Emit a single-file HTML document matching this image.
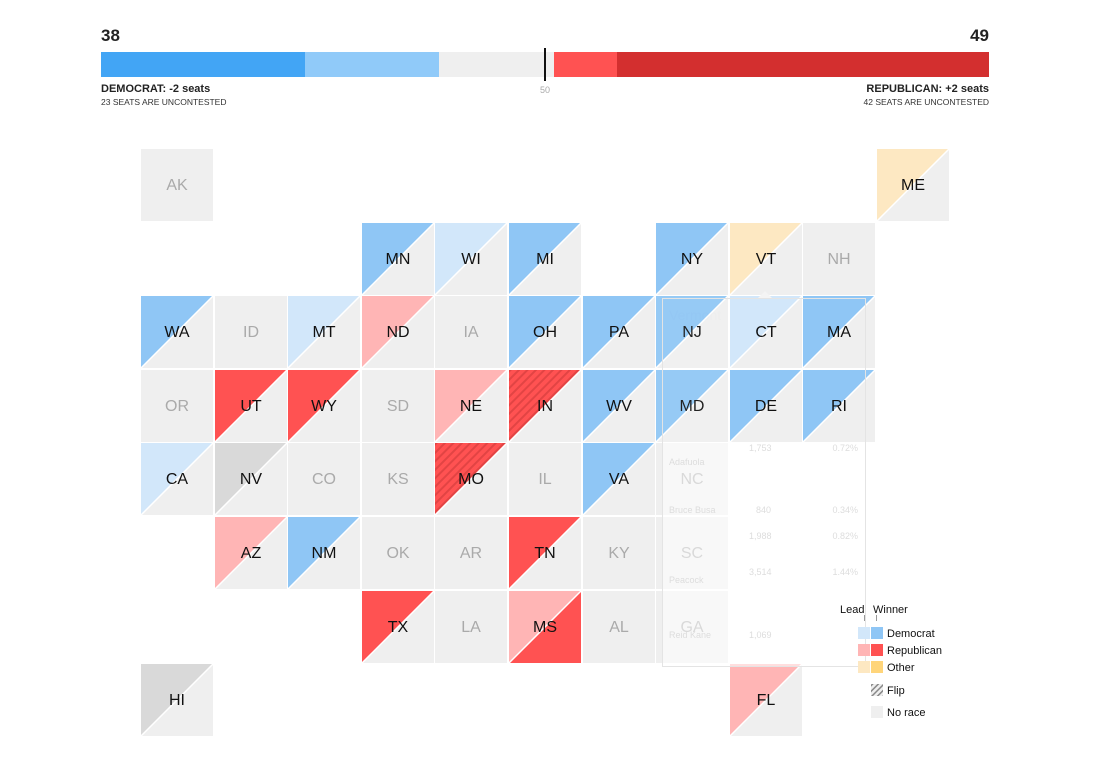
<!DOCTYPE html>
<html><head><meta charset="utf-8"><style>
body{margin:0;background:#fff;width:1097px;height:770px;overflow:hidden;font-family:"Liberation Sans",sans-serif}
</style></head><body>
<svg width="1097" height="770" xmlns="http://www.w3.org/2000/svg" font-family="Liberation Sans, sans-serif">
<defs>
<pattern id="h" width="6" height="6" patternUnits="userSpaceOnUse" patternTransform="rotate(45)">
<rect width="6" height="6" fill="#ff5252"/><rect width="2" height="6" fill="#e24444"/></pattern>
<pattern id="hl" width="4" height="4" patternUnits="userSpaceOnUse" patternTransform="rotate(45)">
<rect width="4" height="4" fill="#eee"/><rect width="1.5" height="4" fill="#888"/></pattern>
</defs>
<text x="101" y="41" font-size="17" font-weight="bold" fill="#222">38</text>
<text x="989" y="41" font-size="17" font-weight="bold" fill="#222" text-anchor="end">49</text>
<rect x="101" y="52" width="204" height="25" fill="#42a5f5"/>
<rect x="305" y="52" width="134" height="25" fill="#90caf9"/>
<rect x="439" y="52" width="115" height="25" fill="#efefef"/>
<rect x="554" y="52" width="63" height="25" fill="#ff5252"/>
<rect x="617" y="52" width="372" height="25" fill="#d32f2f"/>
<rect x="544" y="48" width="2" height="33" fill="#111"/>
<text x="545" y="93" font-size="9" fill="#aaa" text-anchor="middle">50</text>
<text x="101" y="92" font-size="11" font-weight="bold" fill="#222">DEMOCRAT: -2 seats</text>
<text x="101" y="105" font-size="8.5" fill="#333">23 SEATS ARE UNCONTESTED</text>
<text x="989" y="92" font-size="11" font-weight="bold" fill="#222" text-anchor="end">REPUBLICAN: +2 seats</text>
<text x="989" y="105" font-size="8.5" fill="#333" text-anchor="end">42 SEATS ARE UNCONTESTED</text>

<text x="669" y="320" font-size="14" fill="#d8e2ee">Vermont</text>

<g font-size="16" text-anchor="middle" stroke-width="0">
<g transform="translate(141,149)"><rect width="72" height="72" fill="#efefef"/><text x="36" y="41" fill="#aaa">AK</text></g>
<g transform="translate(877,149)"><rect width="72" height="72" fill="#efefef"/><polygon points="0,0 72,0 0,72" fill="#fde8c2"/><line x1="72" y1="0" x2="0" y2="72" stroke="#fff" stroke-width="1.5"/><text x="36" y="41" fill="#111">ME</text></g>

<g transform="translate(362,223)"><rect width="72" height="72" fill="#efefef"/><polygon points="0,0 72,0 0,72" fill="#8fc6f5"/><line x1="72" y1="0" x2="0" y2="72" stroke="#fff" stroke-width="1.5"/><text x="36" y="41" fill="#111">MN</text></g>
<g transform="translate(435,223)"><rect width="72" height="72" fill="#efefef"/><polygon points="0,0 72,0 0,72" fill="#d2e7fa"/><line x1="72" y1="0" x2="0" y2="72" stroke="#fff" stroke-width="1.5"/><text x="36" y="41" fill="#111">WI</text></g>
<g transform="translate(509,223)"><rect width="72" height="72" fill="#efefef"/><polygon points="0,0 72,0 0,72" fill="#8fc6f5"/><line x1="72" y1="0" x2="0" y2="72" stroke="#fff" stroke-width="1.5"/><text x="36" y="41" fill="#111">MI</text></g>
<g transform="translate(656,223)"><rect width="72" height="72" fill="#efefef"/><polygon points="0,0 72,0 0,72" fill="#8fc6f5"/><line x1="72" y1="0" x2="0" y2="72" stroke="#fff" stroke-width="1.5"/><text x="36" y="41" fill="#111">NY</text></g>
<g transform="translate(730,223)"><rect width="72" height="72" fill="#efefef"/><polygon points="0,0 72,0 0,72" fill="#fde8c2"/><line x1="72" y1="0" x2="0" y2="72" stroke="#fff" stroke-width="1.5"/><text x="36" y="41" fill="#111">VT</text></g>
<g transform="translate(803,223)"><rect width="72" height="72" fill="#efefef"/><text x="36" y="41" fill="#aaa">NH</text></g>

<g transform="translate(141,296)"><rect width="72" height="72" fill="#efefef"/><polygon points="0,0 72,0 0,72" fill="#8fc6f5"/><line x1="72" y1="0" x2="0" y2="72" stroke="#fff" stroke-width="1.5"/><text x="36" y="41" fill="#111">WA</text></g>
<g transform="translate(215,296)"><rect width="72" height="72" fill="#efefef"/><text x="36" y="41" fill="#aaa">ID</text></g>
<g transform="translate(288,296)"><rect width="72" height="72" fill="#efefef"/><polygon points="0,0 72,0 0,72" fill="#d2e7fa"/><line x1="72" y1="0" x2="0" y2="72" stroke="#fff" stroke-width="1.5"/><text x="36" y="41" fill="#111">MT</text></g>
<g transform="translate(362,296)"><rect width="72" height="72" fill="#efefef"/><polygon points="0,0 72,0 0,72" fill="#ffb5b5"/><line x1="72" y1="0" x2="0" y2="72" stroke="#fff" stroke-width="1.5"/><text x="36" y="41" fill="#111">ND</text></g>
<g transform="translate(435,296)"><rect width="72" height="72" fill="#efefef"/><text x="36" y="41" fill="#aaa">IA</text></g>
<g transform="translate(509,296)"><rect width="72" height="72" fill="#efefef"/><polygon points="0,0 72,0 0,72" fill="#8fc6f5"/><line x1="72" y1="0" x2="0" y2="72" stroke="#fff" stroke-width="1.5"/><text x="36" y="41" fill="#111">OH</text></g>
<g transform="translate(583,296)"><rect width="72" height="72" fill="#efefef"/><polygon points="0,0 72,0 0,72" fill="#8fc6f5"/><line x1="72" y1="0" x2="0" y2="72" stroke="#fff" stroke-width="1.5"/><text x="36" y="41" fill="#111">PA</text></g>
<g transform="translate(656,296)" opacity="0.93"><rect width="72" height="72" fill="#efefef"/><polygon points="0,0 72,0 0,72" fill="#8fc6f5"/><line x1="72" y1="0" x2="0" y2="72" stroke="#fff" stroke-width="1.5"/><text x="36" y="41" fill="#111">NJ</text></g>
<g transform="translate(730,296)"><rect width="72" height="72" fill="#efefef"/><polygon points="0,0 72,0 0,72" fill="#d2e7fa"/><line x1="72" y1="0" x2="0" y2="72" stroke="#fff" stroke-width="1.5"/><text x="36" y="41" fill="#111">CT</text></g>
<g transform="translate(803,296)"><rect width="72" height="72" fill="#efefef"/><polygon points="0,0 72,0 0,72" fill="#8fc6f5"/><line x1="72" y1="0" x2="0" y2="72" stroke="#fff" stroke-width="1.5"/><text x="36" y="41" fill="#111">MA</text></g>

<g transform="translate(141,370)"><rect width="72" height="72" fill="#efefef"/><text x="36" y="41" fill="#aaa">OR</text></g>
<g transform="translate(215,370)"><rect width="72" height="72" fill="#efefef"/><polygon points="0,0 72,0 0,72" fill="#ff5252"/><line x1="72" y1="0" x2="0" y2="72" stroke="#fff" stroke-width="1.5"/><text x="36" y="41" fill="#111">UT</text></g>
<g transform="translate(288,370)"><rect width="72" height="72" fill="#efefef"/><polygon points="0,0 72,0 0,72" fill="#ff5252"/><line x1="72" y1="0" x2="0" y2="72" stroke="#fff" stroke-width="1.5"/><text x="36" y="41" fill="#111">WY</text></g>
<g transform="translate(362,370)"><rect width="72" height="72" fill="#efefef"/><text x="36" y="41" fill="#aaa">SD</text></g>
<g transform="translate(435,370)"><rect width="72" height="72" fill="#efefef"/><polygon points="0,0 72,0 0,72" fill="#ffb5b5"/><line x1="72" y1="0" x2="0" y2="72" stroke="#fff" stroke-width="1.5"/><text x="36" y="41" fill="#111">NE</text></g>
<g transform="translate(509,370)"><rect width="72" height="72" fill="#efefef"/><polygon points="0,0 72,0 0,72" fill="url(#h)"/><line x1="72" y1="0" x2="0" y2="72" stroke="#fff" stroke-width="1.5"/><text x="36" y="41" fill="#111">IN</text></g>
<g transform="translate(583,370)"><rect width="72" height="72" fill="#efefef"/><polygon points="0,0 72,0 0,72" fill="#8fc6f5"/><line x1="72" y1="0" x2="0" y2="72" stroke="#fff" stroke-width="1.5"/><text x="36" y="41" fill="#111">WV</text></g>
<g transform="translate(656,370)" opacity="0.93"><rect width="72" height="72" fill="#efefef"/><polygon points="0,0 72,0 0,72" fill="#8fc6f5"/><line x1="72" y1="0" x2="0" y2="72" stroke="#fff" stroke-width="1.5"/><text x="36" y="41" fill="#111">MD</text></g>
<g transform="translate(730,370)"><rect width="72" height="72" fill="#efefef"/><polygon points="0,0 72,0 0,72" fill="#8fc6f5"/><line x1="72" y1="0" x2="0" y2="72" stroke="#fff" stroke-width="1.5"/><text x="36" y="41" fill="#111">DE</text></g>
<g transform="translate(803,370)"><rect width="72" height="72" fill="#efefef"/><polygon points="0,0 72,0 0,72" fill="#8fc6f5"/><line x1="72" y1="0" x2="0" y2="72" stroke="#fff" stroke-width="1.5"/><text x="36" y="41" fill="#111">RI</text></g>

<g transform="translate(141,443)"><rect width="72" height="72" fill="#efefef"/><polygon points="0,0 72,0 0,72" fill="#d2e7fa"/><line x1="72" y1="0" x2="0" y2="72" stroke="#fff" stroke-width="1.5"/><text x="36" y="41" fill="#111">CA</text></g>
<g transform="translate(215,443)"><rect width="72" height="72" fill="#efefef"/><polygon points="0,0 72,0 0,72" fill="#d9d9d9"/><line x1="72" y1="0" x2="0" y2="72" stroke="#fff" stroke-width="1.5"/><text x="36" y="41" fill="#111">NV</text></g>
<g transform="translate(288,443)"><rect width="72" height="72" fill="#efefef"/><text x="36" y="41" fill="#aaa">CO</text></g>
<g transform="translate(362,443)"><rect width="72" height="72" fill="#efefef"/><text x="36" y="41" fill="#aaa">KS</text></g>
<g transform="translate(435,443)"><rect width="72" height="72" fill="#efefef"/><polygon points="0,0 72,0 0,72" fill="url(#h)"/><line x1="72" y1="0" x2="0" y2="72" stroke="#fff" stroke-width="1.5"/><text x="36" y="41" fill="#111">MO</text></g>
<g transform="translate(509,443)"><rect width="72" height="72" fill="#efefef"/><text x="36" y="41" fill="#aaa">IL</text></g>
<g transform="translate(583,443)"><rect width="72" height="72" fill="#efefef"/><polygon points="0,0 72,0 0,72" fill="#8fc6f5"/><line x1="72" y1="0" x2="0" y2="72" stroke="#fff" stroke-width="1.5"/><text x="36" y="41" fill="#111">VA</text></g>
<g transform="translate(656,443)"><rect width="72" height="72" fill="#efefef"/><text x="36" y="41" fill="#aaa">NC</text></g>

<g transform="translate(215,517)"><rect width="72" height="72" fill="#efefef"/><polygon points="0,0 72,0 0,72" fill="#ffb5b5"/><line x1="72" y1="0" x2="0" y2="72" stroke="#fff" stroke-width="1.5"/><text x="36" y="41" fill="#111">AZ</text></g>
<g transform="translate(288,517)"><rect width="72" height="72" fill="#efefef"/><polygon points="0,0 72,0 0,72" fill="#8fc6f5"/><line x1="72" y1="0" x2="0" y2="72" stroke="#fff" stroke-width="1.5"/><text x="36" y="41" fill="#111">NM</text></g>
<g transform="translate(362,517)"><rect width="72" height="72" fill="#efefef"/><text x="36" y="41" fill="#aaa">OK</text></g>
<g transform="translate(435,517)"><rect width="72" height="72" fill="#efefef"/><text x="36" y="41" fill="#aaa">AR</text></g>
<g transform="translate(509,517)"><rect width="72" height="72" fill="#efefef"/><polygon points="0,0 72,0 0,72" fill="#ff5252"/><line x1="72" y1="0" x2="0" y2="72" stroke="#fff" stroke-width="1.5"/><text x="36" y="41" fill="#111">TN</text></g>
<g transform="translate(583,517)"><rect width="72" height="72" fill="#efefef"/><text x="36" y="41" fill="#aaa">KY</text></g>
<g transform="translate(656,517)"><rect width="72" height="72" fill="#efefef"/><text x="36" y="41" fill="#aaa">SC</text></g>

<g transform="translate(362,591)"><rect width="72" height="72" fill="#efefef"/><polygon points="0,0 72,0 0,72" fill="#ff5252"/><line x1="72" y1="0" x2="0" y2="72" stroke="#fff" stroke-width="1.5"/><text x="36" y="41" fill="#111">TX</text></g>
<g transform="translate(435,591)"><rect width="72" height="72" fill="#efefef"/><text x="36" y="41" fill="#aaa">LA</text></g>
<g transform="translate(509,591)"><rect width="72" height="72" fill="#ff5252"/><polygon points="0,0 72,0 0,72" fill="#ffb5b5"/><line x1="72" y1="0" x2="0" y2="72" stroke="#fff" stroke-width="1.5"/><text x="36" y="41" fill="#111">MS</text></g>
<g transform="translate(583,591)"><rect width="72" height="72" fill="#efefef"/><text x="36" y="41" fill="#aaa">AL</text></g>
<g transform="translate(656,591)"><rect width="72" height="72" fill="#efefef"/><text x="36" y="41" fill="#aaa">GA</text></g>

<g transform="translate(141,664)"><rect width="72" height="72" fill="#efefef"/><polygon points="0,0 72,0 0,72" fill="#d9d9d9"/><line x1="72" y1="0" x2="0" y2="72" stroke="#fff" stroke-width="1.5"/><text x="36" y="41" fill="#111">HI</text></g>
<g transform="translate(730,664)"><rect width="72" height="72" fill="#efefef"/><polygon points="0,0 72,0 0,72" fill="#ffb5b5"/><line x1="72" y1="0" x2="0" y2="72" stroke="#fff" stroke-width="1.5"/><text x="36" y="41" fill="#111">FL</text></g>
</g>

<!-- faded tooltip -->
<rect x="662.5" y="443" width="203" height="224" fill="#fff" fill-opacity="0.55"/>
<rect x="662.5" y="298.5" width="203" height="368" fill="none" stroke="#e4e4e4"/>
<polygon points="758,298 765,291 772,298" fill="#f4f4f4"/>
<g font-size="9" fill="#ddd">
<text x="669" y="465">Adafuola</text><text x="749" y="451">1,753</text><text x="858" y="451" text-anchor="end">0.72%</text>
<text x="669" y="513">Bruce Busa</text><text x="756" y="513">840</text><text x="858" y="513" text-anchor="end">0.34%</text>
<text x="749" y="539">1,988</text><text x="858" y="539" text-anchor="end">0.82%</text>
<text x="669" y="583">Peacock</text><text x="749" y="575">3,514</text><text x="858" y="575" text-anchor="end">1.44%</text>
<text x="669" y="638">Reid Kane</text><text x="749" y="638">1,069</text>
</g>

<!-- legend -->
<g font-size="11" fill="#111">
<text x="840" y="613">Lead</text><text x="873" y="613">Winner</text>
<rect x="864" y="615" width="1" height="6" fill="#999"/><rect x="876" y="615" width="1" height="6" fill="#999"/>
<rect x="858" y="627" width="12" height="12" fill="#d2e7fa"/><rect x="871" y="627" width="12" height="12" fill="#8fc6f5"/>
<text x="887" y="637">Democrat</text>
<rect x="858" y="644" width="12" height="12" fill="#ffb5b5"/><rect x="871" y="644" width="12" height="12" fill="#ff5252"/>
<text x="887" y="654">Republican</text>
<rect x="858" y="661" width="12" height="12" fill="#fde8c2"/><rect x="871" y="661" width="12" height="12" fill="#ffd57a"/>
<text x="887" y="671">Other</text>
<rect x="871" y="684" width="12" height="12" fill="url(#hl)"/>
<text x="887" y="694">Flip</text>
<rect x="871" y="706" width="12" height="12" fill="#efefef"/>
<text x="887" y="716">No race</text>
</g>
</svg>
</body></html>
